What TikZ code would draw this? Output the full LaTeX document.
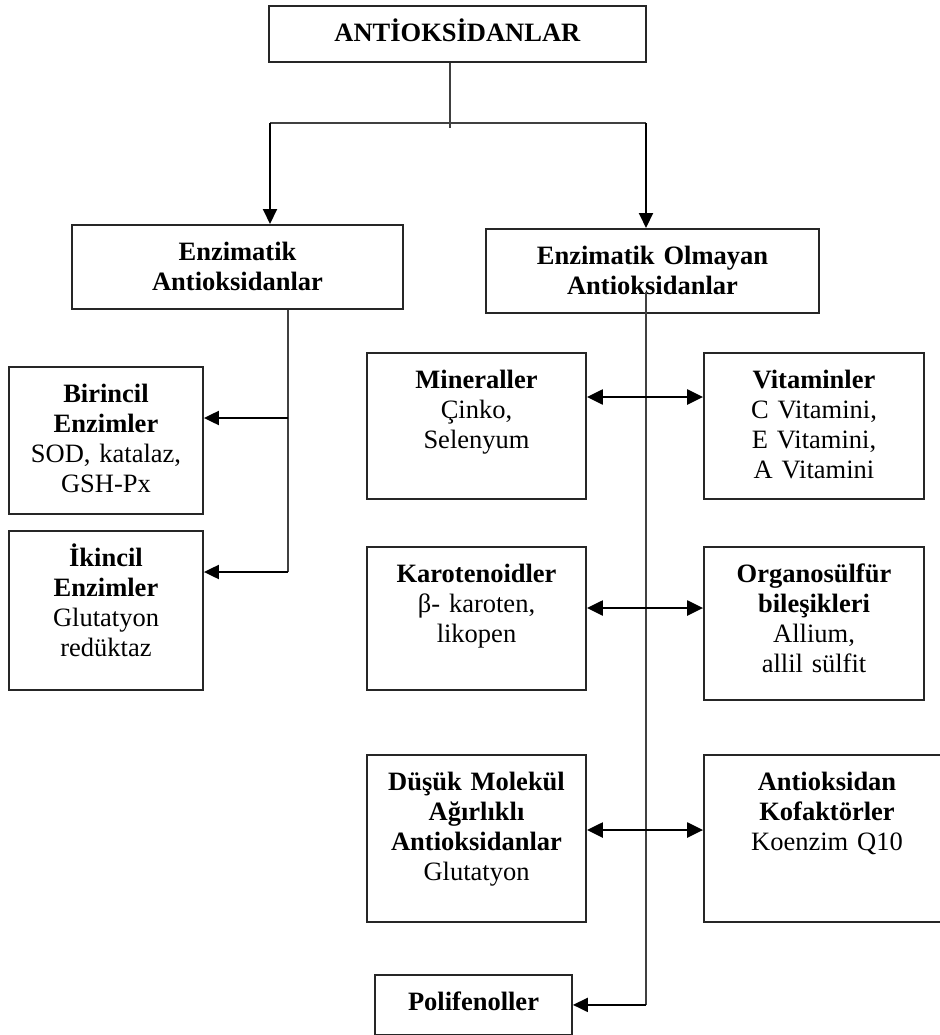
\documentclass[tikz,border=0pt]{standalone}
\usepackage{fontspec}
\setmainfont{Liberation Serif}
\usetikzlibrary{positioning, arrows.meta}

\begin{document}
\begin{tikzpicture}[
        x=1pt, y=-1pt,
        every node/.style={font=\fontsize{26.5}{30}\selectfont},
        kutu/.style={draw=black!85, line width=1.8pt, anchor=north, align=center, inner sep=0pt, text height=36pt},
        hat/.style={draw=black!75, line width=1.7pt},
        ok/.style={-{Triangle[length=15pt, width=14pt]}, line width=2pt},
        ciftok/.style={{Triangle[length=16pt, width=15pt]}-{Triangle[length=16pt, width=15pt]}, line width=2.3pt}
    ]
    \useasboundingbox (0,0) rectangle (939,1035);
    % ust seviye
    \node (Ana) [kutu, text width=377pt, text depth=20pt] at (457.5,5) {\textbf{ANTİOKSİDANLAR}};
    \node (Enz) [kutu, text width=331pt, text depth=48pt] at (237.5,224) {\textbf{Enzimatik}\\\textbf{Antioksidanlar}};
    \node (Olm) [kutu, text width=333pt, text depth=48pt] at (652.5,228) {\textbf{Enzimatik Olmayan}\\\textbf{Antioksidanlar}};
    % enzimatik
    \node (Bir) [kutu, text width=194pt, text depth=111pt] at (106,366) {\textbf{Birincil}\\\textbf{Enzimler}\\SOD, katalaz,\\GSH-Px};
    \node (Iki) [kutu, text width=194pt, text depth=123pt] at (106,530) {\textbf{İkincil}\\\textbf{Enzimler}\\Glutatyon\\redüktaz};
    % enzimatik olmayan
    \node (Min) [kutu, text width=219pt, text depth=110pt] at (476.5,352) {\textbf{Mineraller}\\Çinko,\\Selenyum};
    \node (Vit) [kutu, text width=220pt, text depth=110pt] at (814,352) {\textbf{Vitaminler}\\C Vitamini,\\E Vitamini,\\A Vitamini};
    \node (Kar) [kutu, text width=219pt, text depth=107pt] at (476.5,546) {\textbf{Karotenoidler}\\β- karoten,\\likopen};
    \node (Org) [kutu, text width=220pt, text depth=117pt] at (814,546) {\textbf{Organosülfür}\\\textbf{bileşikleri}\\Allium,\\allil sülfit};
    \node (Dus) [kutu, text width=219pt, text depth=131pt] at (476.5,754) {\textbf{Düşük Molekül}\\\textbf{Ağırlıklı}\\\textbf{Antioksidanlar}\\Glutatyon};
    \node (Kof) [kutu, text width=246pt, text depth=131pt] at (827,754) {\textbf{Antioksidan}\\\textbf{Kofaktörler}\\Koenzim Q10};
    \node (Pol) [kutu, text width=197pt, text depth=24pt] at (473.5,974) {\textbf{Polifenoller}};

    \coordinate (CatalSol) at (270,123);
    \coordinate (CatalSag) at (646,123);
    \coordinate (SolUst) at (288,418);
    \coordinate (SolAlt) at (288,572);
    \coordinate (OrtaUst) at (646,292);

    \draw[hat] (Ana.south -| 450,0) -- (450,128);
    \draw[hat] (CatalSol) -- (CatalSag);
    \draw[ok] (CatalSol) -- (CatalSol |- Enz.north);
    \draw[ok] (CatalSag) -- (CatalSag |- Olm.north);

    \draw[hat] (Enz.south -| SolAlt) -- (SolAlt);
    \draw[ok] (SolUst) -- (SolUst -| Bir.east);
    \draw[ok] (SolAlt) -- (SolAlt -| Iki.east);

    \draw[hat] (OrtaUst) -- (OrtaUst |- Pol.east);
    \draw[ok] (OrtaUst |- Pol.east) -- (Pol.east);
    \draw[ciftok] ([yshift=-45pt]Min.north east) -- ([yshift=-45pt]Vit.north west);
    \draw[ciftok] ([yshift=-62pt]Kar.north east) -- ([yshift=-62pt]Org.north west);
    \draw[ciftok] ([yshift=-76pt]Dus.north east) -- ([yshift=-76pt]Kof.north west);
\end{tikzpicture}
\end{document}
